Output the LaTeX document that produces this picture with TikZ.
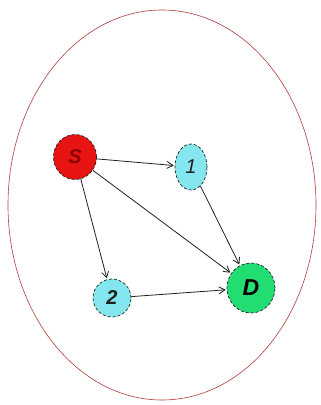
\documentclass[tikz,border=0pt]{standalone}
\usepackage{fontspec}
\setmainfont{Liberation Sans}
\usetikzlibrary{shapes.geometric,arrows.meta}
\definecolor{sred}{HTML}{E81414}
\definecolor{scyan}{HTML}{84E6EE}
\definecolor{sgreen}{HTML}{22DE72}
\definecolor{rim}{HTML}{B23A3A}
\definecolor{edge}{HTML}{202020}
\begin{document}
\begin{tikzpicture}[x=1pt,y=-1pt,
  vert/.style={ellipse,draw=edge,densely dashed,line width=0.7pt,inner sep=0pt,font=\bfseries\itshape\fontsize{20}{20}\selectfont},
  link/.style={draw=edge,line width=0.8pt,-{Straight Barb[length=6pt,width=7pt]},shorten >=1pt}]
\useasboundingbox (0,0) rectangle (321,405);
\node[ellipse,draw=rim,line width=0.6pt,minimum width=308pt,minimum height=390pt] (world) at (162,205) {};
\node[vert,fill=sred,text=red!55!black,minimum width=43pt,minimum height=45pt] (s) at (75,157) {S};
\node[vert,fill=scyan,text=edge,minimum width=32pt,minimum height=46pt,font=\itshape\fontsize{20}{20}\selectfont] (n1) at (191,167) {1};
\node[vert,fill=scyan,text=edge,minimum width=38pt,minimum height=38pt] (n2) at (112,298) {2};
\node[vert,fill=sgreen,text=black,minimum width=48pt,minimum height=50pt,font=\bfseries\itshape\fontsize{23}{23}\selectfont] (d) at (251,288) {D};
\draw[link] (s) -- (n1);
\draw[link] (s) -- (n2);
\draw[link] (s) -- (d);
\draw[link] (n1) -- (d);
\draw[link] (n2) -- (d);
\end{tikzpicture}
\end{document}
